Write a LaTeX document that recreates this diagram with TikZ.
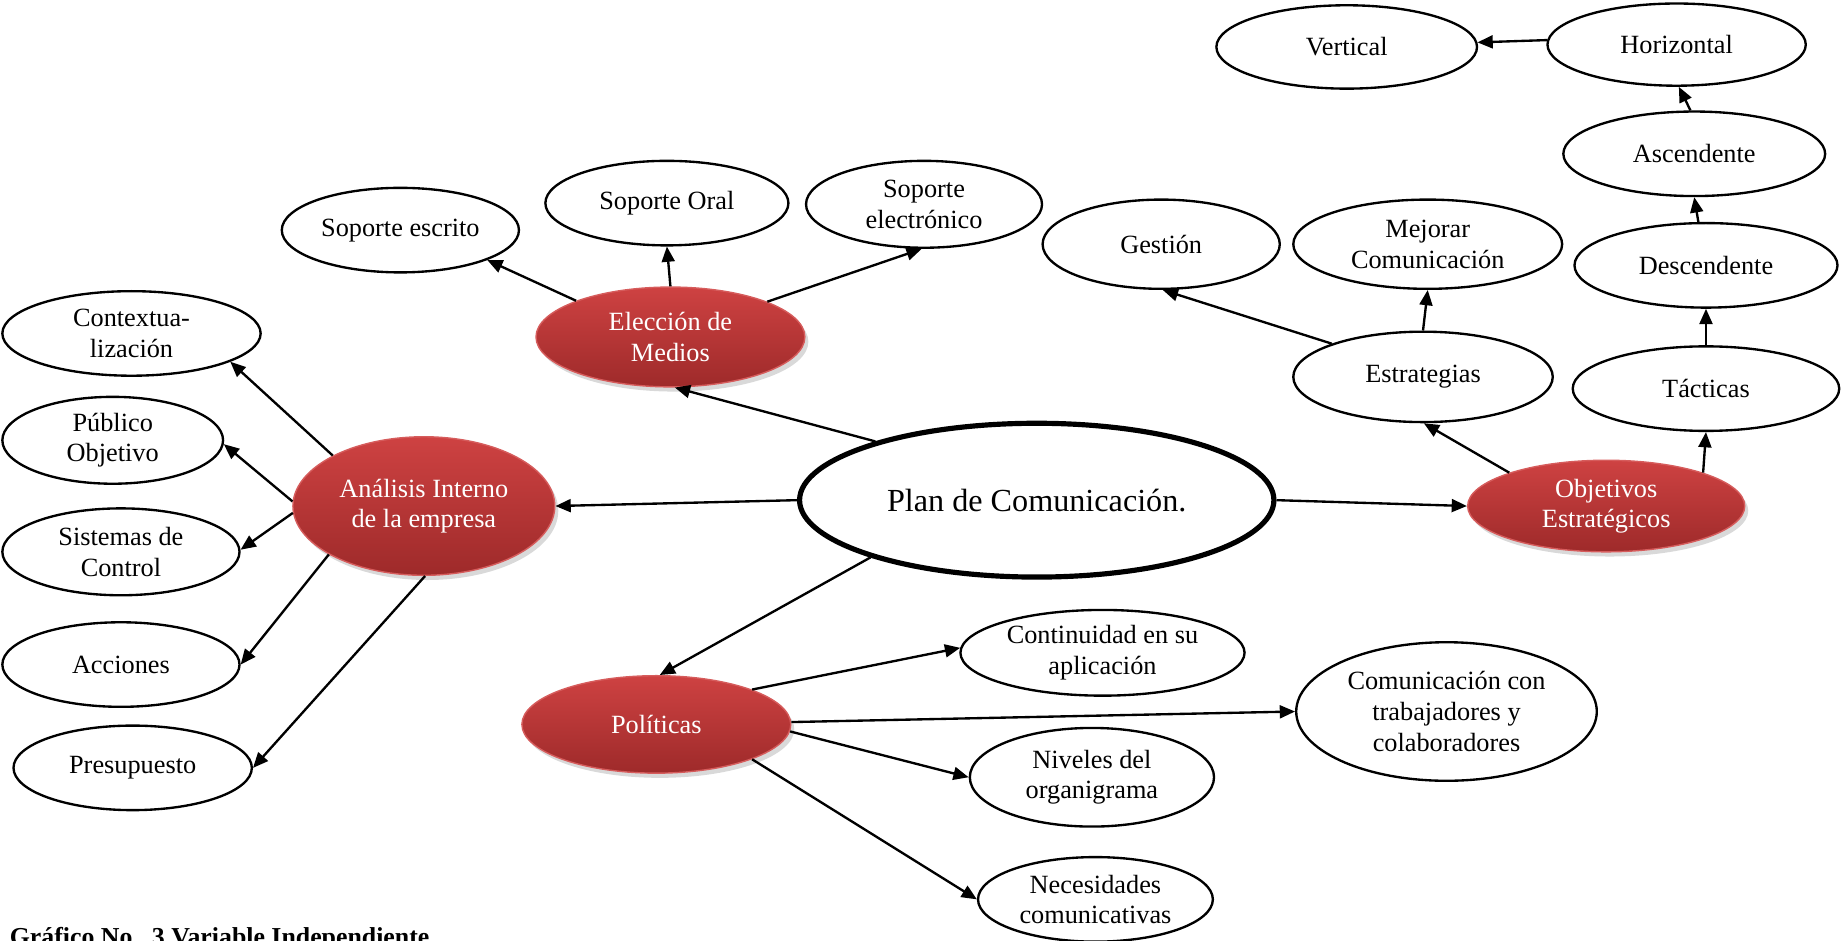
\documentclass[tikz,border=0pt]{standalone}
\usepackage{fontspec}
\setmainfont{Liberation Serif}
\usetikzlibrary{shapes.geometric,arrows.meta,shadows}
\definecolor{redtop}{RGB}{206,66,66}
\definecolor{redbot}{RGB}{158,42,42}
\definecolor{redborder}{RGB}{214,92,92}
\begin{document}
\begin{tikzpicture}[x=0.5pt,y=-0.5pt,
  every node/.style={font=\fontsize{11.2}{13}\selectfont, align=center},
  sz/.style 2 args={minimum width=#1*0.5pt, minimum height=#2*0.5pt},
  leaf/.style={ellipse, draw=black, line width=1pt, fill=white, inner sep=0pt},
  hub/.style={ellipse, draw=redborder, line width=0.6pt, top color=redtop, bottom color=redbot, text=white, inner sep=0pt,
    drop shadow={opacity=0.3, shadow xshift=1.5pt, shadow yshift=-2pt}},
  conn/.style={line width=1pt, -{Triangle[length=6.5pt,width=5.5pt]}}
]
\useasboundingbox (0,0) rectangle (1568,801);

% centre
\node[ellipse, draw=black, line width=2.2pt, fill=white, inner sep=0pt, sz={404}{131},
  font=\fontsize{13.7}{16}\selectfont] (P) at (883,426) {Plan de Comunicación.};

% hubs
\node[hub, sz={229}{85}] (EM) at (571,287) {Elección de\\Medios};
\node[hub, sz={223}{118}] (AI) at (361,431) {Análisis Interno\\de la empresa};
\node[hub, sz={236}{78}] (O) at (1368,431) {Objetivos\\Estratégicos};
\node[hub, sz={229}{83}] (Pol) at (559,617) {Políticas};

% Elección leaves
\node[leaf, sz={202}{72}] (SE) at (341,196) {Soporte escrito};
\node[leaf, sz={207}{72}] (SO) at (568,173) {Soporte Oral};
\node[leaf, sz={201}{74}] (SEl) at (787,174) {Soporte\\electrónico};

% Análisis leaves
\node[leaf, sz={220}{72}] (C) at (112,284) {Contextua-\\lización};
\node[leaf, sz={188}{74}] (PO) at (96,375) {Público\\Objetivo};
\node[leaf, sz={202}{74}] (SC) at (103,470) {Sistemas de\\Control};
\node[leaf, sz={202}{72}] (Ac) at (103,566) {Acciones};
\node[leaf, sz={203}{72}] (Pr) at (113,654) {Presupuesto};

% Objetivos branch
\node[leaf, sz={221}{77}] (E) at (1212,321) {Estrategias};
\node[leaf, sz={229}{76}] (M) at (1216,208) {Mejorar\\Comunicación};
\node[leaf, sz={202}{76}] (G) at (989,208) {Gestión};
\node[leaf, sz={227}{72}] (T) at (1453,331) {Tácticas};
\node[leaf, sz={224}{72}] (D) at (1453,226) {Descendente};
\node[leaf, sz={223}{72}] (A) at (1443,131) {Ascendente};
\node[leaf, sz={220}{70}] (H) at (1428,38) {Horizontal};
\node[leaf, sz={222}{71}] (V) at (1147,40) {Vertical};

% Políticas leaves
\node[leaf, sz={242}{73}] (Co) at (939,556) {Continuidad en su\\aplicación};
\node[leaf, sz={256}{118}] (Ct) at (1232,606) {Comunicación con\\trabajadores y\\colaboradores};
\node[leaf, sz={208}{84}] (N) at (930,662) {Niveles del\\organigrama};
\node[leaf, sz={200}{72}] (Ne) at (933,766) {Necesidades\\comunicativas};

% caption
\node[anchor=base west, inner sep=0pt, font=\fontsize{11}{13}\bfseries] (cap) at (8,805) {Gráfico No.\ \ 3 Variable Independiente};

% connectors from centre
\draw[conn] (P.160) -- (EM.-85);
\draw[conn] (P.180) -- (AI.0);
\draw[conn] (P.0) -- (O.180);
\draw[conn] (P.199) -- (Pol.86);

% Elección
\draw[conn] (EM.159) -- (SE.-19);
\draw[conn] (EM.90) -- (SO.-90);
\draw[conn] (EM.20) -- (SEl.-93);

% Análisis
\draw[conn] (AI.151) -- (C.-16);
\draw[conn] (AI.178) -- (PO.-2);
\draw[conn] (AI.183) -- (SC.1);
\draw[conn] (AI.207) -- (Ac.0);
\draw[conn] (AI.-89) -- (Pr.0);

% Objetivos
\draw[conn] (O.161) -- (E.-89);
\draw[conn] (O.19) -- (T.-90);
\draw[conn] (E.160) -- (G.-88);
\draw[conn] (E.90) -- (M.-90);
\draw[conn] (T.90) -- (D.-90);
\draw[conn] (D.100) -- (A.-90);
\draw[conn] (A.95) -- (H.-87);
\draw[conn] (H.178) -- (V.2);

% Políticas
\draw[conn] (Pol.20) -- (Co.178);
\draw[conn] (Pol.1) -- (Ct.180);
\draw[conn] (Pol.-3) -- (N.180);
\draw[conn] (Pol.-20) -- (Ne.180);
\end{tikzpicture}
\end{document}
